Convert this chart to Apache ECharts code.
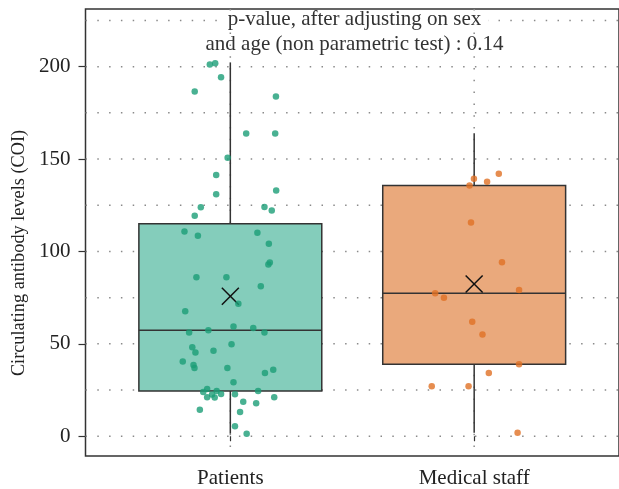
<!DOCTYPE html>
<html>
<head>
<meta charset="utf-8">
<script src="https://cdn.jsdelivr.net/npm/echarts@6/dist/echarts.min.js"></script>
<style>
  html, body { margin: 0; padding: 0; background: #fff; }
  #chart { width: 619px; height: 489px; }
</style>
</head>
<body>
<div id="chart"></div>
<script>
// Groups shown along the horizontal axis
var categories = ['Patients', 'Medical staff'];

// Box summaries per group: [position, lowerWhisker, q1, median, q3, upperWhisker, mean]
var boxStats = [
  [1, 1.4, 24.5, 57.3, 115.0, 202.3, 75.7],
  [2, 1.9, 39.0, 77.4, 135.7, 164.0, 82.4]
];

// Individual observations (jittered position, COI level)
var patientsPoints = [
  [0.916, 201.1], [0.938, 201.8], [0.962, 194.3], [0.854, 186.6], [1.187, 183.9],
  [1.065, 163.8], [1.184, 163.8], [0.989, 150.7], [0.942, 141.4], [0.942, 130.9],
  [1.188, 133.0], [0.879, 123.9], [0.854, 119.3], [1.140, 124.1], [1.170, 122.1],
  [0.812, 110.8], [0.867, 108.5], [1.111, 110.1], [1.158, 104.2], [1.162, 94.0],
  [1.156, 92.9], [0.861, 86.1], [0.984, 86.1], [1.125, 81.1], [1.033, 71.7],
  [0.815, 67.7], [0.831, 56.2], [0.910, 57.3], [1.013, 59.4], [1.094, 58.6],
  [1.140, 56.2], [0.844, 48.1], [0.857, 45.3], [0.931, 46.2], [1.005, 49.8],
  [0.805, 40.5], [0.849, 38.5], [0.853, 36.9], [0.988, 36.9], [1.142, 34.2],
  [1.176, 36.0], [1.013, 29.2], [0.905, 25.6], [0.889, 24.0], [0.944, 24.5],
  [0.962, 22.9], [0.925, 22.6], [0.905, 21.1], [0.936, 20.9], [1.019, 22.7],
  [1.114, 24.5], [1.180, 21.1], [1.053, 18.6], [1.106, 17.9], [0.875, 14.3],
  [1.040, 13.1], [1.019, 5.4], [1.067, 1.4]
];
var staffPoints = [
  [1.999, 139.3], [1.981, 135.7], [2.053, 137.7], [2.101, 142.1], [1.987, 115.7],
  [2.114, 94.2], [2.184, 79.1], [1.840, 77.4], [1.876, 75.0], [1.992, 61.9],
  [2.034, 55.0], [2.184, 39.0], [2.060, 34.2], [1.826, 27.0], [1.977, 27.0],
  [2.178, 1.9]
];

// Axis ticks and dotted reference lines
var yTickValues = [0, 50, 100, 150, 200];
var yGridValues = [0, 25, 50, 75, 100, 125, 150, 175, 200, 225];
var xTickValues = [1, 2];

var pValueLines = ['p-value, after adjusting on sex', 'and age (non parametric test) : 0.14'];

var SERIF = '"Liberation Serif", "DejaVu Serif", serif';
var boxFill = ['#84cdbb', '#eaa97c'];
var pointColor = ['#1b9e77', '#e07024'];
var dotted = { color: '#8a8a8a', width: 1.5, type: [1.5, 10.3] };

var chart = echarts.init(document.getElementById('chart'), null, { renderer: 'canvas' });

function gridLines(params, api) {
  var cs = params.coordSys;
  var d = api.value(0), v = api.value(1);
  var x1, y1, x2, y2;
  if (d === 0) {           // horizontal line at value v
    var p = api.coord([1, v]);
    x1 = cs.x; x2 = cs.x + cs.width; y1 = y2 = p[1];
  } else {                 // vertical line at position v
    var q = api.coord([v, 0]);
    y1 = cs.y; y2 = cs.y + cs.height; x1 = x2 = q[0];
  }
  return {
    type: 'line',
    shape: { x1: x1, y1: y1, x2: x2, y2: y2 },
    style: { stroke: dotted.color, lineWidth: dotted.width, lineDash: dotted.type }
  };
}

function boxItem(params, api) {
  var x = api.value(0);
  var lo = api.coord([x, api.value(1)]);
  var q1 = api.coord([x, api.value(2)]);
  var med = api.coord([x, api.value(3)]);
  var q3 = api.coord([x, api.value(4)]);
  var hi = api.coord([x, api.value(5)]);
  var mean = api.coord([x, api.value(6)]);
  var half = api.size([0.75, 0])[0] / 2;
  var cx = q1[0];
  var stroke = '#333';
  var lw = 1.5;
  var m = 8.5;
  return {
    type: 'group',
    children: [
      { type: 'line', shape: { x1: cx, y1: hi[1], x2: cx, y2: q3[1] }, style: { stroke: stroke, lineWidth: lw } },
      { type: 'line', shape: { x1: cx, y1: q1[1], x2: cx, y2: lo[1] }, style: { stroke: stroke, lineWidth: lw } },
      { type: 'rect', shape: { x: cx - half, y: q3[1], width: 2 * half, height: q1[1] - q3[1] },
        style: { fill: boxFill[params.dataIndex], stroke: stroke, lineWidth: lw } },
      { type: 'line', shape: { x1: cx - half, y1: med[1], x2: cx + half, y2: med[1] }, style: { stroke: stroke, lineWidth: lw } },
      { type: 'line', z2: 50, shape: { x1: cx - m, y1: mean[1] - m, x2: cx + m, y2: mean[1] + m }, style: { stroke: '#111', lineWidth: 1.5 } },
      { type: 'line', z2: 50, shape: { x1: cx - m, y1: mean[1] + m, x2: cx + m, y2: mean[1] - m }, style: { stroke: '#111', lineWidth: 1.5 } }
    ]
  };
}

var gridData = yGridValues.map(function (v) { return [0, v]; })
  .concat(xTickValues.map(function (v) { return [1, v]; }));

chart.setOption({
  animation: false,
  backgroundColor: '#fff',
  grid: {
    left: 85.5, top: 9, width: 536, height: 450.3,
    show: true, borderColor: '#333', borderWidth: 1.5, backgroundColor: 'transparent'
  },
  xAxis: {
    type: 'value',
    min: 1 - 145.5 / 245,
    max: 2 + 145.5 / 245,
    axisLine: { show: false },
    splitLine: { show: false },
    axisTick: { show: true, length: 5, customValues: xTickValues, lineStyle: { color: '#333', width: 1.2 } },
    axisLabel: {
      customValues: xTickValues,
      margin: 12,
      fontFamily: SERIF, fontSize: 21, color: '#222',
      formatter: function (v) { return categories[Math.round(v) - 1] || ''; }
    }
  },
  yAxis: {
    type: 'value',
    min: -10.7,
    max: 231.2,
    axisLine: { show: false },
    splitLine: { show: false },
    axisTick: { show: true, length: 7, customValues: yTickValues, lineStyle: { color: '#333', width: 1.2 } },
    axisLabel: {
      customValues: yTickValues,
      margin: 15,
      fontFamily: SERIF, fontSize: 21, color: '#222'
    }
  },
  graphic: [
    {
      type: 'text',
      x: 19, y: 253, rotation: Math.PI / 2,
      style: {
        text: 'Circulating antibody levels (COI)',
        font: '18.3px ' + SERIF, fill: '#222',
        textAlign: 'center', textVerticalAlign: 'middle'
      }
    },
    {
      // white patch behind the first annotation line, over the top dotted line
      type: 'rect', z: 99,
      shape: { x: 219, y: 11, width: 269, height: 19 },
      style: { fill: '#fff' }
    },
    {
      type: 'text', z: 100,
      x: 354.5, y: 9,
      style: {
        text: pValueLines[0], font: '21px ' + SERIF, fill: '#333',
        textAlign: 'center', textVerticalAlign: 'top'
      }
    },
    {
      type: 'text', z: 100,
      x: 354.5, y: 34,
      style: {
        text: pValueLines[1], font: '21px ' + SERIF, fill: '#333',
        textAlign: 'center', textVerticalAlign: 'top'
      }
    }
  ],
  series: [
    {
      type: 'custom', z: 1, silent: true,
      renderItem: gridLines,
      data: gridData
    },
    {
      type: 'custom', z: 2, silent: true,
      renderItem: boxItem,
      data: boxStats
    },
    {
      type: 'scatter', z: 3, name: categories[0],
      symbol: 'circle', symbolSize: 6.5,
      itemStyle: { color: pointColor[0] },
      data: patientsPoints
    },
    {
      type: 'scatter', z: 3, name: categories[1],
      symbol: 'circle', symbolSize: 6.5,
      itemStyle: { color: pointColor[1] },
      data: staffPoints
    }
  ]
});
</script>
</body>
</html>
